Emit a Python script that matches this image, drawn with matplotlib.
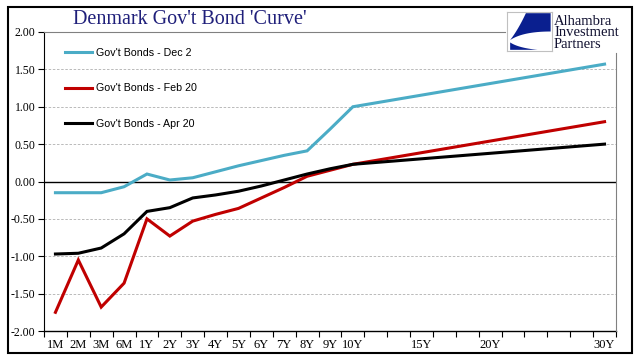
import matplotlib.pyplot as plt
import matplotlib.patches as mpatches
import numpy as np

# category axis (25 slots, only some labelled)
cat_labels = ['1M', '2M', '3M', '6M', '1Y', '2Y', '3Y', '4Y', '5Y', '6Y', '7Y', '8Y', '9Y', '10Y',
              '', '', '15Y', '', '', '20Y', '', '', '', '', '30Y']
# slots that carry data
data_idx = [0, 1, 2, 3, 4, 5, 6, 7, 8, 9, 10, 11, 12, 13, 24]

dec2 = [-0.15, -0.15, -0.15, -0.07, 0.10, 0.02, 0.05, 0.13, 0.21, 0.28, 0.35, 0.41, 0.70, 1.00, 1.57]
feb20 = [-1.75, -1.05, -1.68, -1.36, -0.50, -0.73, -0.53, -0.44, -0.36, -0.22, -0.08, 0.07, 0.15, 0.23, 0.80]
apr20 = [-0.97, -0.96, -0.89, -0.70, -0.40, -0.35, -0.22, -0.18, -0.13, -0.06, 0.02, 0.10, 0.17, 0.23, 0.50]

series_names = ["Gov't Bonds - Dec 2", "Gov't Bonds - Feb 20", "Gov't Bonds - Apr 20"]
colors = ['#4bacc6', '#c00000', '#000000']

W, H = 641, 361
fig = plt.figure(figsize=(W / 100, H / 100), dpi=100)

# outer border
fig.patches.append(mpatches.Rectangle((8 / W, 1 - 353 / H), (632 - 8) / W, (353 - 7) / H,
                                      transform=fig.transFigure, fill=False,
                                      edgecolor='black', linewidth=1.5))

ax = fig.add_axes([44 / W, 1 - 331 / H, (616 - 44) / W, (331 - 32) / H])

for vals, name, c in zip([dec2, feb20, apr20], series_names, colors):
    ax.plot(data_idx, vals, color=c, linewidth=2.2, label=name, solid_joinstyle='miter', zorder=3)

ax.set_xlim(-0.5, len(cat_labels) - 0.5)
ax.set_ylim(-2.0, 2.0)

# y axis
yt = np.arange(-2.0, 2.01, 0.5)
ax.set_yticks(yt)
ax.set_yticklabels(['%.2f' % v for v in yt], fontfamily='Liberation Serif', fontsize=8.5)
for v in yt:
    if v == 0:
        ax.axhline(0, color='black', linewidth=1.0, zorder=2)
    elif v < 2:
        ax.axhline(v, color='#b0b0b0', linewidth=0.6, linestyle=(0, (3, 2)), zorder=1)

# x axis: labels centred, ticks at the boundaries
ax.set_xticks(range(len(cat_labels)))
ax.set_xticklabels(cat_labels, fontfamily='Liberation Serif', fontsize=9)
ax.set_xticks(np.arange(-0.5, len(cat_labels)), minor=True)
ax.tick_params(axis='x', which='major', length=0, pad=6)
ax.tick_params(axis='x', which='minor', length=4, direction='out', width=0.8)
ax.tick_params(axis='y', length=4, direction='out', width=0.8, pad=2)

ax.spines['top'].set_visible(False)
ax.spines['right'].set_visible(False)
ax.spines['left'].set_linewidth(0.8)
ax.spines['bottom'].set_linewidth(1.0)

# gray frame pieces: top line and right line (interrupted by logo)
fig.add_artist(plt.Line2D([44 / W, 505 / W], [1 - 32 / H, 1 - 32 / H], color='#808080', linewidth=0.8))
fig.add_artist(plt.Line2D([616 / W, 616 / W], [1 - 53 / H, 1 - 331 / H], color='#808080', linewidth=0.8))

leg = ax.legend(loc='upper left', bbox_to_anchor=(55 / W, 1 - 38 / H), bbox_transform=fig.transFigure,
                frameon=False, handlelength=2.6, handletextpad=0.3,
                labelspacing=2.4, prop={'family': 'Liberation Sans', 'size': 7.7})

fig.text(190 / W, 1 - 19 / H, "Denmark Gov't Bond 'Curve'", ha='center', va='center',
         fontfamily='Liberation Serif', fontsize=14.5, color='#1f1f7a')


def bez(p0, p1, p2, n=25):
    u = np.linspace(0, 1, n)[:, None]
    p0, p1, p2 = np.array(p0), np.array(p1), np.array(p2)
    return list(map(tuple, (1 - u) ** 2 * p0 + 2 * (1 - u) * u * p1 + u ** 2 * p2))


# logo
lax = fig.add_axes([507 / W, 1 - 51 / H, 45 / W, 39 / H])
lax.set_xlim(0, 1)
lax.set_ylim(0, 1)
lax.set_xticks([])
lax.set_yticks([])
for s in lax.spines.values():
    s.set_color('#c0c0c0')
    s.set_linewidth(0.8)
navy = '#0a1f8f'
upper = [(0.42, 0.97), (0.97, 0.97), (0.97, 0.50)] + bez((0.97, 0.50), (0.35, 0.50), (0.07, 0.28)) \
        + bez((0.07, 0.28), (0.25, 0.55), (0.42, 0.97))
lax.add_patch(mpatches.Polygon(upper, closed=True, color=navy, linewidth=0))
lower = [(0.07, 0.22), (0.07, 0.03), (0.68, 0.03)] + bez((0.68, 0.03), (0.25, 0.08), (0.07, 0.22))
lax.add_patch(mpatches.Polygon(lower, closed=True, color=navy, linewidth=0))

fig.text(554 / W, 1 - 33 / H, "Alhambra\nInvestment\nPartners", ha='left', va='center',
         fontfamily='Liberation Serif', fontsize=10.5, linespacing=0.82, color='#101030')

fig.savefig('out.png', dpi=100)
